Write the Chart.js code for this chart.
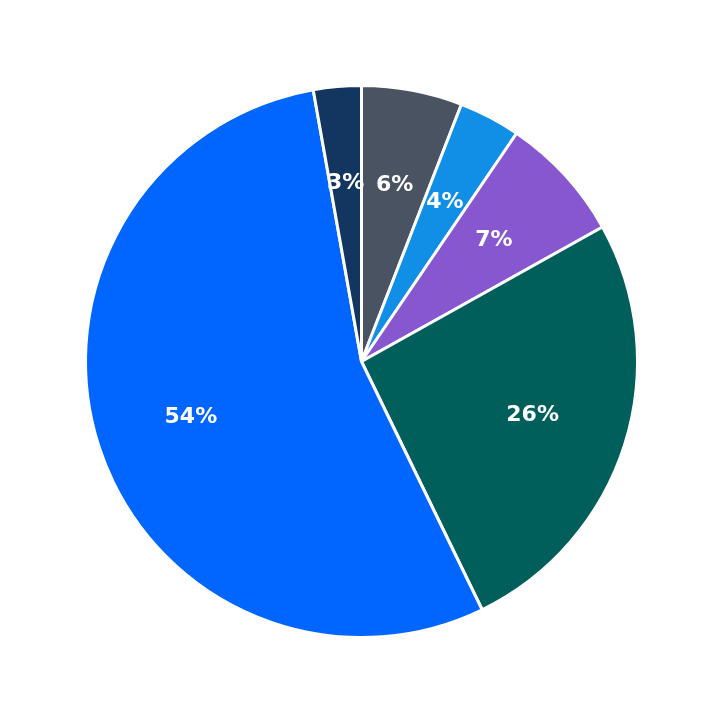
<!DOCTYPE html>
<html>
<head>
<meta charset="utf-8">
<script src="https://cdn.jsdelivr.net/npm/chart.js@4"></script>
<style>
  html, body { margin: 0; padding: 0; background: #fff; }
  #wrap { width: 723px; height: 723px; }
</style>
</head>
<body>
<div id="wrap"><canvas id="myChart"></canvas></div>
<script>
// データ
const categories = ["A", "B", "C", "D", "E", "F"];
const values = [5.9, 3.6, 7.4, 25.9, 54.4, 2.8];
const sliceLabels = ["6%", "4%", "7%", "26%", "54%", "3%"];
const colors = ["#4a5361", "#118fe6", "#8757d0", "#005f5b", "#0066ff", "#12365f"];

// スライス内にラベルを描く
const sliceLabelPlugin = {
  id: "sliceLabels",
  afterDatasetsDraw(chart) {
    const ctx = chart.ctx;
    const meta = chart.getDatasetMeta(0);
    ctx.save();
    ctx.fillStyle = "#fff";
    ctx.font = "bold 22px 'DejaVu Sans'";
    ctx.textAlign = "center";
    ctx.textBaseline = "middle";
    meta.data.forEach(function (arc, i) {
      const p = arc.getProps(["x", "y", "startAngle", "endAngle", "outerRadius"], true);
      const mid = (p.startAngle + p.endAngle) / 2;
      const r = p.outerRadius * 0.65;
      ctx.fillText(sliceLabels[i], p.x + Math.cos(mid) * r, p.y + Math.sin(mid) * r);
    });
    ctx.restore();
  },
};

new Chart(document.getElementById("myChart"), {
  type: "pie",
  data: {
    labels: categories,
    datasets: [{
      data: values,
      backgroundColor: colors,
      borderColor: "#fff",
      borderWidth: 3,
    }],
  },
  options: {
    responsive: true,
    maintainAspectRatio: false,
    animation: false,
    layout: { padding: 84 },
    plugins: {
      legend: { display: false },
      tooltip: { enabled: false },
    },
  },
  plugins: [sliceLabelPlugin],
});
</script>
</body>
</html>
